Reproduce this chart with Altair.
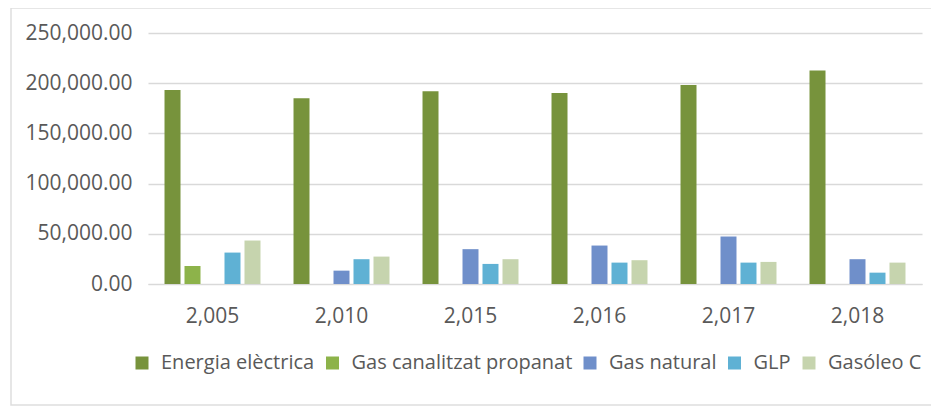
import altair as alt
import pandas as pd

years = [2005, 2010, 2015, 2016, 2017, 2018]
series = ["Energia elèctrica", "Gas canalitzat propanat", "Gas natural", "GLP", "Gasóleo C"]
energia = [193300, 185000, 192000, 190300, 198300, 212700]
gas_canalitzat = [18000, 0, 0, 0, 0, 0]
gas_natural = [0, 13300, 34700, 38300, 47300, 24700]
glp = [31300, 24700, 20000, 21300, 21300, 11300]
gasoleo = [43300, 27300, 24700, 23700, 22000, 21300]
colors = ["#77933c", "#8db34a", "#6f8fca", "#5fb1d4", "#c6d4ae"]

values = [energia, gas_canalitzat, gas_natural, glp, gasoleo]
rows = []
for s, vals in zip(series, values):
    for y, v in zip(years, vals):
        rows.append({"year": y, "series": s, "value": v})
df = pd.DataFrame(rows)

text_color = "#595959"
font = "Open Sans"

border = alt.Chart(pd.DataFrame({"a": [0]})).mark_rect(
    fill=None, stroke="#dedede", strokeWidth=1.5
).encode(
    x=alt.value(-137), x2=alt.value(800),
    y=alt.value(-25), y2=alt.value(372)
)

bars = alt.Chart(df).mark_bar().encode(
    x=alt.X("year:N", sort=years,
            scale=alt.Scale(paddingInner=0.225, paddingOuter=0.1125),
            axis=alt.Axis(title=None, labelAngle=0, ticks=False, domain=True,
                          domainColor="#d9d9d9", labelPadding=21,
                          labelExpr="format(datum.value, ',')")),
    xOffset=alt.XOffset("series:N", sort=series,
                        scale=alt.Scale(paddingInner=0.2, paddingOuter=0.1)),
    y=alt.Y("value:Q", scale=alt.Scale(domain=[0, 250000]),
            axis=alt.Axis(title=None, values=[0, 50000, 100000, 150000, 200000, 250000],
                          format=",.2f", ticks=False, domain=False, labelPadding=16,
                          gridColor="#d9d9d9", gridWidth=1.5)),
    color=alt.Color("series:N", sort=series,
                    scale=alt.Scale(domain=series, range=colors),
                    legend=alt.Legend(title=None, orient="none", direction="horizontal",
                                      legendX=-16, legendY=320, symbolType="square",
                                      symbolSize=169, symbolStrokeWidth=0,
                                      labelOffset=9, columnPadding=7.5, padding=0,
                                      labelFontSize=20, labelFont=font,
                                      labelColor=text_color, labelLimit=400,
                                      columns=5)),
)

chart = alt.layer(border, bars).properties(
    width=774, height=251,
    autosize=alt.AutoSizeParams(type="none"),
    padding={"left": 140, "top": 25, "right": 9, "bottom": 123},
).configure_view(stroke=None).configure_axis(
    labelFont=font, labelFontSize=21, labelColor=text_color, grid=False
).configure_axisY(grid=True)

chart.save("out.html", embed_options={"renderer": "svg", "actions": False})
